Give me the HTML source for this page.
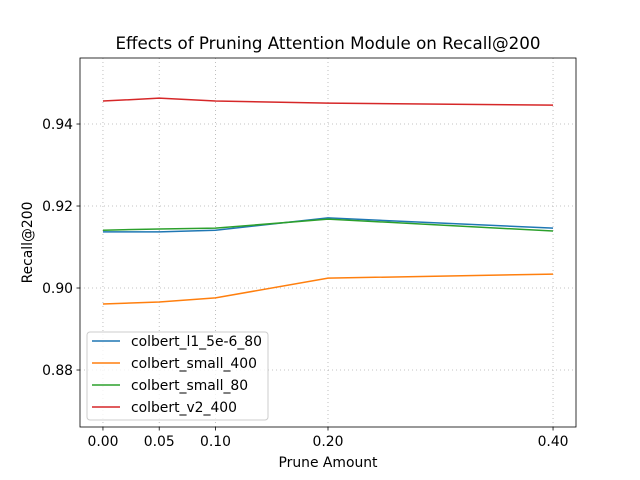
<!DOCTYPE html>
<html><head><meta charset="utf-8"><style>
body{margin:0;background:#fff;}
svg{display:block;font-family:"DejaVu Sans","Liberation Sans",sans-serif;}
</style></head><body>
<svg id="chart" width="640" height="480"></svg>
<script>
const xValues=[0.00,0.05,0.10,0.20,0.40];
const xTickLabels=["0.00","0.05","0.10","0.20","0.40"];
const yTicks=[0.88,0.90,0.92,0.94];
const yTickLabels=["0.88","0.90","0.92","0.94"];
const seriesNames=["colbert_l1_5e-6_80","colbert_small_400","colbert_small_80","colbert_v2_400"];
const seriesColors=["#1f77b4","#ff7f0e","#2ca02c","#d62728"];
const sL1=[0.9137,0.9137,0.9141,0.9171,0.9146];
const sSmall400=[0.8961,0.8966,0.8976,0.9024,0.9034];
const sSmall80=[0.9141,0.9144,0.9146,0.9168,0.9139];
const sV2=[0.9456,0.9463,0.9456,0.9451,0.9446];
const series=[sL1,sSmall400,sSmall80,sV2];

const L=80,R=576,T=58,B=427;
const xmin=-0.0204,xmax=0.4204,ymin=0.8661,ymax=0.9561;
const X=v=>L+(v-xmin)/(xmax-xmin)*(R-L);
const Y=v=>B-(v-ymin)/(ymax-ymin)*(B-T);
const svg=document.getElementById('chart');
const NS='http://www.w3.org/2000/svg';
function mk(tag,attrs,parent){const e=document.createElementNS(NS,tag);for(const k in attrs)e.setAttribute(k,attrs[k]);(parent||svg).appendChild(e);return e;}

xValues.forEach((v,i)=>{
 const g=mk('line',{x1:X(v),x2:X(v),y1:T,y2:B,stroke:'#b0b0b0','stroke-width':0.8,'stroke-dasharray':'1,3'});
 
 
 const t=mk('line',{x1:X(v),x2:X(v),y1:B,y2:B+3.5,stroke:'#000','stroke-width':0.8});
 
 
 const lb=mk('text',{x:X(v),y:B+19,'text-anchor':'middle','font-size':13.9});
 lb.textContent=xTickLabels[i];
 
 
});
yTicks.forEach((v,i)=>{
 const g=mk('line',{x1:L,x2:R,y1:Y(v),y2:Y(v),stroke:'#b0b0b0','stroke-width':0.8,'stroke-dasharray':'1,3'});
 
 
 const t=mk('line',{x1:L-3.5,x2:L,y1:Y(v),y2:Y(v),stroke:'#000','stroke-width':0.8});
 
 
 const lb=mk('text',{x:L-7,y:Y(v)+5,'text-anchor':'end','font-size':13.9});
 lb.textContent=yTickLabels[i];
 
 
});
series.forEach((s,i)=>{
 const p=mk('polyline',{points:s.map((v,j)=>X(xValues[j])+','+Y(v)).join(' '),fill:'none',stroke:seriesColors[i],'stroke-width':1.5});
 
 
});
const fr=mk('rect',{x:L,y:T,width:R-L,height:B-T,fill:'none',stroke:'#000','stroke-width':0.8});


const ti=mk('text',{x:(L+R)/2,y:T-9,'text-anchor':'middle','font-size':16.7});
ti.textContent='Effects of Pruning Attention Module on Recall@200';


const xt=mk('text',{x:(L+R)/2,y:467,'text-anchor':'middle','font-size':13.9});
xt.textContent='Prune Amount';


const yt=mk('text',{x:0,y:0,'text-anchor':'middle','font-size':13.9,transform:'translate(32,'+((T+B)/2)+') rotate(-90)'});
yt.textContent='Recall@200';


const lg=mk('g',{});


mk('rect',{x:87,y:332,width:181,height:88,rx:3,fill:'#fff','fill-opacity':0.8,stroke:'#ccc','stroke-width':1},lg);
seriesNames.forEach((n,i)=>{
 const yy=341+i*22;
 const e=mk('g',{},lg);
 
 
 mk('line',{x1:92,x2:120,y1:yy,y2:yy,stroke:seriesColors[i],'stroke-width':1.5},e);
 const t=mk('text',{x:131,y:yy+5,'font-size':13.9},e);
 t.textContent=n;
});
</script>
</body></html>
